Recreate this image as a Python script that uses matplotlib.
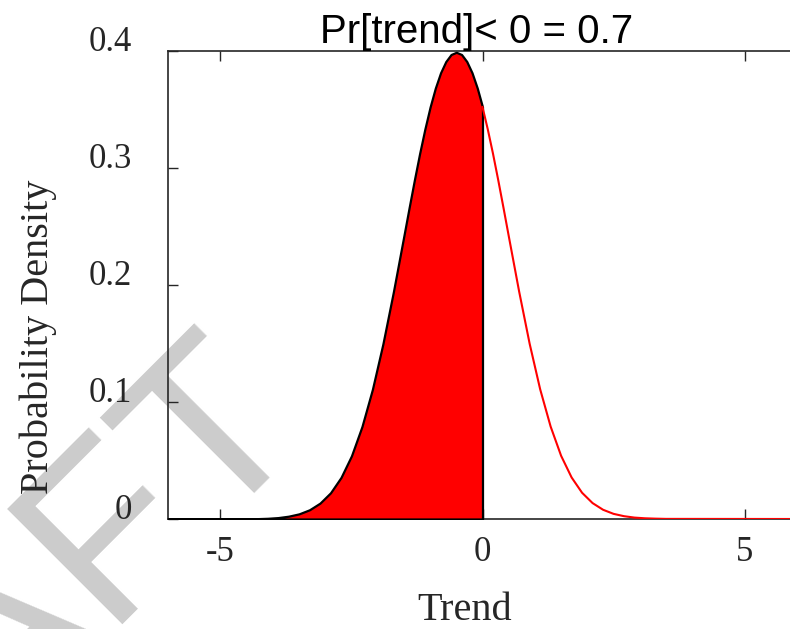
import numpy as np
import matplotlib
matplotlib.use('Agg')
import matplotlib.pyplot as plt

# ---------- 数据（从图上读取的密度曲线） ----------
trend_x = [-6.0,
           -4.5, -4.3, -4.1, -3.9, -3.7, -3.5, -3.3, -3.1, -2.9, -2.7,
           -2.5, -2.3, -2.1, -1.9, -1.7,
           -1.5, -1.4, -1.3, -1.2, -1.1, -1.0, -0.9, -0.8, -0.7, -0.6,
           -0.5, -0.4, -0.3, -0.2, -0.1, 0.0, 0.1, 0.2, 0.3, 0.4, 0.5,
           0.7, 0.9, 1.1, 1.3, 1.5, 1.7, 1.9, 2.1, 2.3, 2.5,
           2.7, 2.9, 3.1, 3.3, 3.5,
           6.0]
density = [0.0,
           0.0001, 0.0003, 0.0006, 0.0012, 0.0024, 0.0044, 0.0079, 0.0136, 0.0224, 0.0355,
           0.0540, 0.0790, 0.1109, 0.1497, 0.1942,
           0.2420, 0.2661, 0.2897, 0.3123, 0.3332, 0.3521, 0.3683, 0.3814, 0.3910, 0.3970,
           0.3989, 0.3970, 0.3910, 0.3814, 0.3683, 0.3521, 0.3332, 0.3123, 0.2897, 0.2661, 0.2420,
           0.1942, 0.1497, 0.1109, 0.0790, 0.0540, 0.0355, 0.0224, 0.0136, 0.0079, 0.0044,
           0.0024, 0.0012, 0.0006, 0.0003, 0.0001,
           0.0]
prob_below = 0.7

x_ticks = [-5, 0, 5]
x_tick_labels = ['-5', '0', '5']
y_ticks = [0, 0.1, 0.2, 0.3, 0.4]
y_tick_labels = ['0', '0.1', '0.2', '0.3', '0.4']

serif = ['Liberation Serif', 'DejaVu Serif']
sans = ['Liberation Sans', 'DejaVu Sans']

x = np.array(trend_x)
y = np.array(density)
left = x <= 0
right = x >= 0

fig = plt.figure(figsize=(7.9, 6.29), dpi=100)
ax = fig.add_axes([168/790, 1 - 519/629, (797 - 168)/790, (519 - 51)/629])
ax.set_facecolor('none')

# 水印
fig.text(308/790, 1 - 419/629, 'DRAFT', fontsize=170, family=sans,
         color='#cccccc', rotation=45, rotation_mode='anchor',
         ha='right', va='baseline', zorder=-1)

# 阴影区域 + 右侧曲线
ax.fill_between(x[left], y[left], 0, facecolor='red', edgecolor='black',
                linewidth=1.6, zorder=3)
ax.plot(x[right], y[right], color='red', linewidth=1.5, zorder=3)

ax.set_xlim(-6, 6)
ax.set_ylim(0, 0.4)
ax.set_xticks(x_ticks)
ax.set_xticklabels(x_tick_labels, family=serif, fontsize=25)
ax.set_yticks(y_ticks)
ax.set_yticklabels(y_tick_labels, family=serif, fontsize=25)
for lab in ax.get_yticklabels():
    lab.set_va('baseline')
ax.tick_params(direction='in', top=True, right=False, length=7, width=1,
               colors='#262626')
ax.tick_params(axis='y', pad=26)
ax.tick_params(axis='x', pad=12)
for s in ax.spines.values():
    s.set_linewidth(1.2)
    s.set_color('#262626')

ax.set_ylabel('Probability Density', family=serif, fontsize=29, color='#262626')
ax.yaxis.set_label_coords((57 - 168)/629, (519 - 337)/468)
ax.set_xlabel('Trend', family=serif, fontsize=29, color='#262626')
ax.xaxis.set_label_coords((465 - 168)/629, -0.156)

ax.text((477 - 168)/629, (519 - 43)/468, f'Pr[trend]< 0 = {prob_below}',
        transform=ax.transAxes, family=sans, fontsize=29,
        ha='center', va='baseline')

plt.savefig('out.png', dpi=100)
